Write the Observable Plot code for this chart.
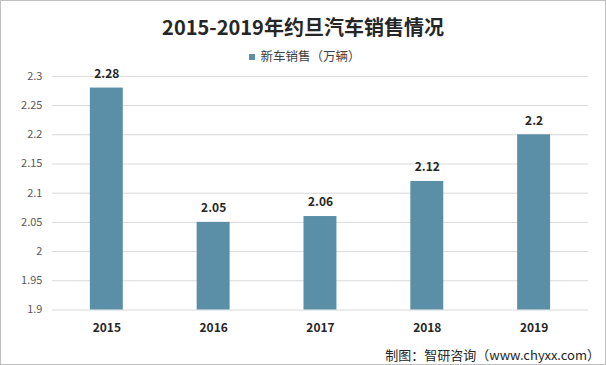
<!DOCTYPE html>
<html><head><meta charset="utf-8">
<script src="https://cdn.jsdelivr.net/npm/d3@7"></script>
<script src="https://cdn.jsdelivr.net/npm/@observablehq/plot@0.6"></script>
<style>
html,body{margin:0;padding:0;background:#fff;}
#wrap{position:relative;width:604px;height:363px;border:1px solid #bfbfbf;overflow:hidden;font-family:"Noto Sans CJK SC","Noto Sans",sans-serif;}
#title{position:absolute;left:0;right:0;top:13px;text-align:center;font-size:20px;font-weight:bold;color:#262626;line-height:26px;}
#legend{position:absolute;left:4px;right:0;top:47px;text-align:center;font-size:12.5px;color:#404040;line-height:16px;}
#legend .sw{display:inline-block;width:6px;height:6px;background:#5b8fa8;margin-right:5px;vertical-align:1px;}
#caption{position:absolute;right:5px;top:345px;font-size:13px;color:#262626;line-height:17px;}
#chart{position:absolute;left:-1px;top:-1px;}
</style></head>
<body>
<div id="wrap">
<div id="chart"></div>
<div id="title">2015-2019年约旦汽车销售情况</div>
<div id="legend"><span class="sw"></span>新车销售（万辆）</div>
<div id="caption">制图：智研咨询（www.chyxx.com）</div>
</div>
<script>
const years = ["2015","2016","2017","2018","2019"];
const sales = [2.28, 2.05, 2.06, 2.12, 2.2];
const yTicks = [1.9, 1.95, 2, 2.05, 2.1, 2.15, 2.2, 2.25, 2.3];
const yTickLabels = ["1.9","1.95","2","2.05","2.1","2.15","2.2","2.25","2.3"];
const seriesName = "新车销售（万辆）";

const data = years.map((y, i) => ({year: y, value: sales[i]}));

const chart = Plot.plot({
  width: 606,
  height: 365,
  marginLeft: 52,
  marginRight: 17,
  marginTop: 76,
  marginBottom: 55,
  style: {fontFamily: '"Noto Sans CJK SC","Noto Sans",sans-serif', background: "transparent"},
  x: {domain: years, paddingInner: 0.69, paddingOuter: 0.345, label: null},
  y: {domain: [1.9, 2.3], label: null},
  marks: [
    Plot.ruleY(yTicks, {stroke: "#d9d9d9", strokeWidth: 1}),
    Plot.barY(data, {x: "year", y1: 1.9, y2: "value", fill: "#5b8fa8"}),
    Plot.text(data, {x: "year", y: "value", text: d => String(d.value), dy: -14, fontWeight: "bold", fontSize: 12, fill: "#262626"}),
    Plot.axisY(yTicks, {tickSize: 0, tickPadding: 10, fontSize: 11, fill: "#595959", tickFormat: (d, i) => yTickLabels[i], label: null}),
    Plot.axisX({tickSize: 0, tickPadding: 14, fontSize: 12, fontWeight: "bold", fill: "#262626", label: null})
  ]
});
document.getElementById("chart").appendChild(chart);
</script>
</body></html>
